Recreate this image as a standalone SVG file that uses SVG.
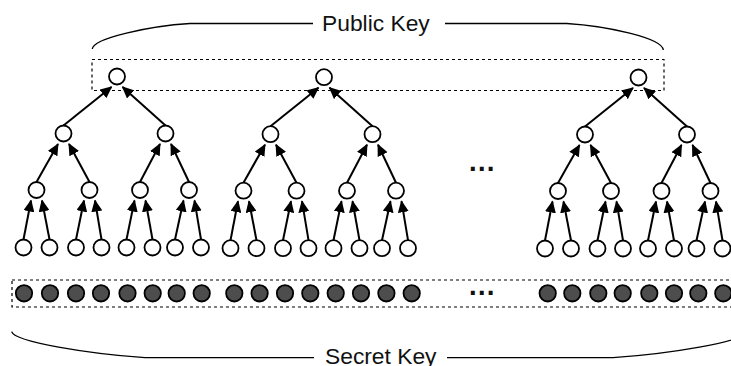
<svg xmlns="http://www.w3.org/2000/svg" width="731" height="366" viewBox="0 0 731 366">
<style>
.n{fill:#fff;stroke:#000;stroke-width:1.8}
.s{fill:#4d4d4d;stroke:#000;stroke-width:1.8}
.e{stroke:#000;stroke-width:2;fill:none;marker-end:url(#ah)}
.box{fill:none;stroke:#000;stroke-width:1.2;stroke-dasharray:3 3}
.br{fill:none;stroke:#000;stroke-width:1.3}
.lbl{font-family:"Liberation Sans",Arial,sans-serif;font-size:22.8px;fill:#111}
.dots{font-family:"Liberation Sans",Arial,sans-serif;font-size:28px;font-weight:bold;fill:#111;text-anchor:middle}
</style>
<defs>
<marker id="ah" markerUnits="userSpaceOnUse" markerWidth="12" markerHeight="11" refX="11" refY="5.5" orient="auto" viewBox="0 0 12 11">
<path d="M0,0 L12,5.5 L0,11 z" fill="#000"/>
</marker>
</defs>
<rect width="731" height="366" fill="#fff"/>

<g id="public-key">
<rect class="box" x="92" y="59.5" width="572" height="31"/>
<path class="br" d="M92.3,49 C93,38 150,26 190,23.5 L313,23.5"/>
<path class="br" d="M445,23.5 L566.7,23.5 C606.7,26 662.3,38 663.3,50"/>
<text class="lbl" x="322" y="31">Public Key</text>
</g>

<g id="secret-key">
<rect class="box" x="12" y="280" width="740" height="27"/>
<path class="br" d="M11.7,331.7 C14,342 90,354 145,357.7 L314,357.7"/>
<path class="br" d="M447,357.7 L613,357.7 C668,354 744,342 746.3,331.7"/>
<text class="lbl" x="325" y="363.5">Secret Key</text>
</g>

<g id="connectors">
<g transform="translate(0 0)">
<path class="e" d="M63.5,125.5 L111.5,87"/>
<path class="e" d="M165.5,125.5 L122.5,87"/>
<path class="e" d="M36.5,182 L58,144"/>
<path class="e" d="M89.5,182 L69,144"/>
<path class="e" d="M140,182 L160,144"/>
<path class="e" d="M189,182 L171,144"/>
<path class="e" d="M23.5,239.5 L31,200.5"/>
<path class="e" d="M49.5,239.5 L42,200.5"/>
<path class="e" d="M76,239.5 L84,200.5"/>
<path class="e" d="M101.5,239.5 L95,200.5"/>
<path class="e" d="M126.5,239.5 L134.5,200.5"/>
<path class="e" d="M152.5,239.5 L145.5,200.5"/>
<path class="e" d="M175,239.5 L183.5,200.5"/>
<path class="e" d="M201,239.5 L194.5,200.5"/>
</g>
<g transform="translate(207 0.7)">
<path class="e" d="M63.5,125.5 L111.5,87"/>
<path class="e" d="M165.5,125.5 L122.5,87"/>
<path class="e" d="M36.5,182 L58,144"/>
<path class="e" d="M89.5,182 L69,144"/>
<path class="e" d="M140,182 L160,144"/>
<path class="e" d="M189,182 L171,144"/>
<path class="e" d="M23.5,239.5 L31,200.5"/>
<path class="e" d="M49.5,239.5 L42,200.5"/>
<path class="e" d="M76,239.5 L84,200.5"/>
<path class="e" d="M101.5,239.5 L95,200.5"/>
<path class="e" d="M126.5,239.5 L134.5,200.5"/>
<path class="e" d="M152.5,239.5 L145.5,200.5"/>
<path class="e" d="M175,239.5 L183.5,200.5"/>
<path class="e" d="M201,239.5 L194.5,200.5"/>
</g>
<g transform="translate(521.5 1)">
<path class="e" d="M63.5,125.5 L111.5,87"/>
<path class="e" d="M165.5,125.5 L122.5,87"/>
<path class="e" d="M36.5,182 L58,144"/>
<path class="e" d="M89.5,182 L69,144"/>
<path class="e" d="M140,182 L160,144"/>
<path class="e" d="M189,182 L171,144"/>
<path class="e" d="M23.5,239.5 L31,200.5"/>
<path class="e" d="M49.5,239.5 L42,200.5"/>
<path class="e" d="M76,239.5 L84,200.5"/>
<path class="e" d="M101.5,239.5 L95,200.5"/>
<path class="e" d="M126.5,239.5 L134.5,200.5"/>
<path class="e" d="M152.5,239.5 L145.5,200.5"/>
<path class="e" d="M175,239.5 L183.5,200.5"/>
<path class="e" d="M201,239.5 L194.5,200.5"/>
</g>
</g>

<g id="tree1">
<g id="t1-root"><circle class="n" cx="117" cy="76.5" r="8"/></g>
<g id="t1-l2a"><circle class="n" cx="63.5" cy="133.5" r="8"/></g>
<g id="t1-l2b"><circle class="n" cx="165.5" cy="133.5" r="8"/></g>
<g id="t1-l3a"><circle class="n" cx="36.5" cy="190" r="8"/></g>
<g id="t1-l3b"><circle class="n" cx="89.5" cy="190" r="8"/></g>
<g id="t1-l3c"><circle class="n" cx="140" cy="190" r="8"/></g>
<g id="t1-l3d"><circle class="n" cx="189" cy="190" r="8"/></g>
<g id="t1-leaf1"><circle class="n" cx="23.5" cy="247.5" r="8"/></g>
<g id="t1-leaf2"><circle class="n" cx="49.5" cy="247.5" r="8"/></g>
<g id="t1-leaf3"><circle class="n" cx="76" cy="247.5" r="8"/></g>
<g id="t1-leaf4"><circle class="n" cx="101.5" cy="247.5" r="8"/></g>
<g id="t1-leaf5"><circle class="n" cx="126.5" cy="247.5" r="8"/></g>
<g id="t1-leaf6"><circle class="n" cx="152.5" cy="247.5" r="8"/></g>
<g id="t1-leaf7"><circle class="n" cx="175" cy="247.5" r="8"/></g>
<g id="t1-leaf8"><circle class="n" cx="201" cy="247.5" r="8"/></g>
</g>

<g id="tree2" transform="translate(207 0.7)">
<g id="t2-root"><circle class="n" cx="117" cy="76.5" r="8"/></g>
<g id="t2-l2a"><circle class="n" cx="63.5" cy="133.5" r="8"/></g>
<g id="t2-l2b"><circle class="n" cx="165.5" cy="133.5" r="8"/></g>
<g id="t2-l3a"><circle class="n" cx="36.5" cy="190" r="8"/></g>
<g id="t2-l3b"><circle class="n" cx="89.5" cy="190" r="8"/></g>
<g id="t2-l3c"><circle class="n" cx="140" cy="190" r="8"/></g>
<g id="t2-l3d"><circle class="n" cx="189" cy="190" r="8"/></g>
<g id="t2-leaf1"><circle class="n" cx="23.5" cy="247.5" r="8"/></g>
<g id="t2-leaf2"><circle class="n" cx="49.5" cy="247.5" r="8"/></g>
<g id="t2-leaf3"><circle class="n" cx="76" cy="247.5" r="8"/></g>
<g id="t2-leaf4"><circle class="n" cx="101.5" cy="247.5" r="8"/></g>
<g id="t2-leaf5"><circle class="n" cx="126.5" cy="247.5" r="8"/></g>
<g id="t2-leaf6"><circle class="n" cx="152.5" cy="247.5" r="8"/></g>
<g id="t2-leaf7"><circle class="n" cx="175" cy="247.5" r="8"/></g>
<g id="t2-leaf8"><circle class="n" cx="201" cy="247.5" r="8"/></g>
</g>

<g id="tree3" transform="translate(521.5 1)">
<g id="t3-root"><circle class="n" cx="117" cy="76.5" r="8"/></g>
<g id="t3-l2a"><circle class="n" cx="63.5" cy="133.5" r="8"/></g>
<g id="t3-l2b"><circle class="n" cx="165.5" cy="133.5" r="8"/></g>
<g id="t3-l3a"><circle class="n" cx="36.5" cy="190" r="8"/></g>
<g id="t3-l3b"><circle class="n" cx="89.5" cy="190" r="8"/></g>
<g id="t3-l3c"><circle class="n" cx="140" cy="190" r="8"/></g>
<g id="t3-l3d"><circle class="n" cx="189" cy="190" r="8"/></g>
<g id="t3-leaf1"><circle class="n" cx="23.5" cy="247.5" r="8"/></g>
<g id="t3-leaf2"><circle class="n" cx="49.5" cy="247.5" r="8"/></g>
<g id="t3-leaf3"><circle class="n" cx="76" cy="247.5" r="8"/></g>
<g id="t3-leaf4"><circle class="n" cx="101.5" cy="247.5" r="8"/></g>
<g id="t3-leaf5"><circle class="n" cx="126.5" cy="247.5" r="8"/></g>
<g id="t3-leaf6"><circle class="n" cx="152.5" cy="247.5" r="8"/></g>
<g id="t3-leaf7"><circle class="n" cx="175" cy="247.5" r="8"/></g>
<g id="t3-leaf8"><circle class="n" cx="201" cy="247.5" r="8"/></g>
</g>

<g id="ellipsis-trees"><text class="dots" x="481.7" y="170.7">…</text></g>

<g id="secret-values">
<g id="s1"><circle class="s" cx="24" cy="293.3" r="8.2"/></g>
<g id="s2"><circle class="s" cx="50" cy="293.3" r="8.2"/></g>
<g id="s3"><circle class="s" cx="76" cy="293.3" r="8.2"/></g>
<g id="s4"><circle class="s" cx="101" cy="293.3" r="8.2"/></g>
<g id="s5"><circle class="s" cx="127.5" cy="293.3" r="8.2"/></g>
<g id="s6"><circle class="s" cx="152.7" cy="293.3" r="8.2"/></g>
<g id="s7"><circle class="s" cx="176.7" cy="293.3" r="8.2"/></g>
<g id="s8"><circle class="s" cx="201.7" cy="293.3" r="8.2"/></g>
<g id="s9"><circle class="s" cx="234.3" cy="293.3" r="8.2"/></g>
<g id="s10"><circle class="s" cx="259.6" cy="293.3" r="8.2"/></g>
<g id="s11"><circle class="s" cx="285" cy="293.3" r="8.2"/></g>
<g id="s12"><circle class="s" cx="310.3" cy="293.3" r="8.2"/></g>
<g id="s13"><circle class="s" cx="335.7" cy="293.3" r="8.2"/></g>
<g id="s14"><circle class="s" cx="361" cy="293.3" r="8.2"/></g>
<g id="s15"><circle class="s" cx="386.4" cy="293.3" r="8.2"/></g>
<g id="s16"><circle class="s" cx="411.7" cy="293.3" r="8.2"/></g>
<g id="s17"><circle class="s" cx="547.7" cy="293.3" r="8.2"/></g>
<g id="s18"><circle class="s" cx="572.3" cy="293.3" r="8.2"/></g>
<g id="s19"><circle class="s" cx="598.3" cy="293.3" r="8.2"/></g>
<g id="s20"><circle class="s" cx="622.7" cy="293.3" r="8.2"/></g>
<g id="s21"><circle class="s" cx="649.3" cy="293.3" r="8.2"/></g>
<g id="s22"><circle class="s" cx="674" cy="293.3" r="8.2"/></g>
<g id="s23"><circle class="s" cx="698.3" cy="293.3" r="8.2"/></g>
<g id="s24"><circle class="s" cx="723.3" cy="293.3" r="8.2"/></g>
<text class="dots" x="481.7" y="295">…</text>
</g>
</svg>
